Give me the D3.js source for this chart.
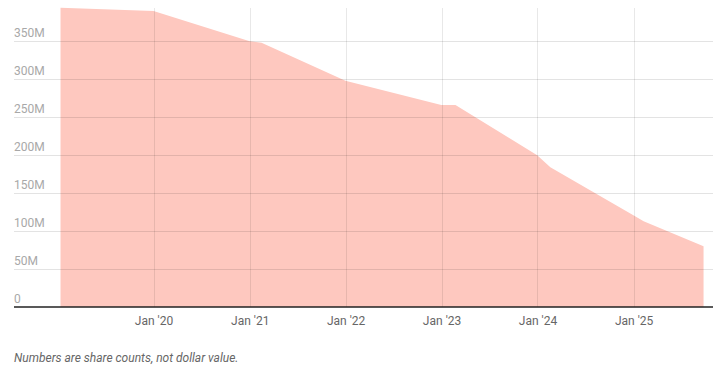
<!DOCTYPE html>
<html>
<head>
<meta charset="utf-8">
<script src="https://cdn.jsdelivr.net/npm/d3@7"></script>
<style>
  html, body { margin: 0; padding: 0; background: #fff; }
  svg { display: block; font-family: Roboto, "Noto Sans", sans-serif; }
</style>
</head>
<body>
<svg id="chart" width="720" height="368"></svg>
<script>
// Data (share counts, millions)
const dates = ["2019-01-12", "2020-01-01", "2021-01-01", "2021-02-15", "2021-12-31", "2022-12-31", "2023-02-23", "2023-12-31", "2024-02-19", "2024-12-31", "2025-02-08", "2025-09-24"];
const shares = [394, 390, 350, 348, 298, 266, 266, 200, 184, 121, 113, 80];
const yTicks = [0, 50, 100, 150, 200, 250, 300, 350];
const yTickLabels = ["0", "50M", "100M", "150M", "200M", "250M", "300M", "350M"];
const xTicks = ["2020-01-01", "2021-01-01", "2022-01-01", "2023-01-01", "2024-01-01", "2025-01-01"];
const xTickLabels = ["Jan '20", "Jan '21", "Jan '22", "Jan '23", "Jan '24", "Jan '25"];
const xDomain = ["2018-07-19", "2025-10-30"];
const yMax = 400;
const note = "Numbers are share counts, not dollar value.";

(function () {
const parse = d3.utcParse("%Y-%m-%d");
const data = dates.map((d, i) => ({ date: parse(d), value: shares[i] }));

const svg = d3.select("#chart");
const mLeft = 14, mRight = 713, mTop = 3.3, mBottom = 307;

const x = d3.scaleUtc().domain(xDomain.map(parse)).range([mLeft, mRight]);
const y = d3.scaleLinear().domain([0, yMax]).range([mBottom, mTop]);

// Area
const area = d3.area()
  .x(d => x(d.date))
  .y0(y(0))
  .y1(d => y(d.value));

svg.append("path")
  .datum(data)
  .attr("d", area)
  .attr("fill", "#fec8bf");

// Horizontal gridlines
svg.append("g")
  .selectAll("line")
  .data(yTicks.filter(t => t > 0))
  .join("line")
  .attr("x1", mLeft).attr("x2", mRight)
  .attr("y1", d => Math.round(y(d)) + 0.5).attr("y2", d => Math.round(y(d)) + 0.5)
  .attr("stroke", "rgba(0,0,0,0.11)")
  .attr("stroke-width", 1);

// Vertical gridlines
svg.append("g")
  .selectAll("line")
  .data(xTicks)
  .join("line")
  .attr("x1", d => Math.round(x(parse(d))) + 0.5).attr("x2", d => Math.round(x(parse(d))) + 0.5)
  .attr("y1", y(0)).attr("y2", 8)
  .attr("stroke", "rgba(0,0,0,0.09)")
  .attr("stroke-width", 1);

// Y labels (above gridlines)
svg.append("g")
  .selectAll("text")
  .data(yTicks)
  .join("text")
  .attr("x", mLeft)
  .attr("y", d => y(d) - 4.5)
  .attr("fill", "#a8a8a8")
  .attr("font-size", 12)
  .text((d, i) => yTickLabels[i]);

// X axis baseline
svg.append("line")
  .attr("x1", mLeft).attr("x2", mRight)
  .attr("y1", y(0)).attr("y2", y(0))
  .attr("stroke", "#222")
  .attr("stroke-width", 1.3);

// X axis labels
const xAxis = d3.axisBottom(x)
  .tickValues(xTicks.map(parse))
  .tickFormat((d, i) => xTickLabels[i])
  .tickSize(0)
  .tickPadding(0);

const gx = svg.append("g")
  .attr("transform", `translate(0,${y(0)})`)
  .call(xAxis);
gx.select(".domain").remove();
gx.selectAll("text")
  .attr("y", 18)
  .attr("dy", null)
  .attr("fill", "#666")
  .attr("font-size", 12)
  .attr("font-family", "Roboto, 'Noto Sans', sans-serif");

// Footnote
svg.append("text")
  .attr("x", mLeft)
  .attr("y", 362)
  .attr("fill", "#666")
  .attr("font-size", 12)
  .attr("font-style", "italic")
  .text(note);
})();
</script>
</body>
</html>
